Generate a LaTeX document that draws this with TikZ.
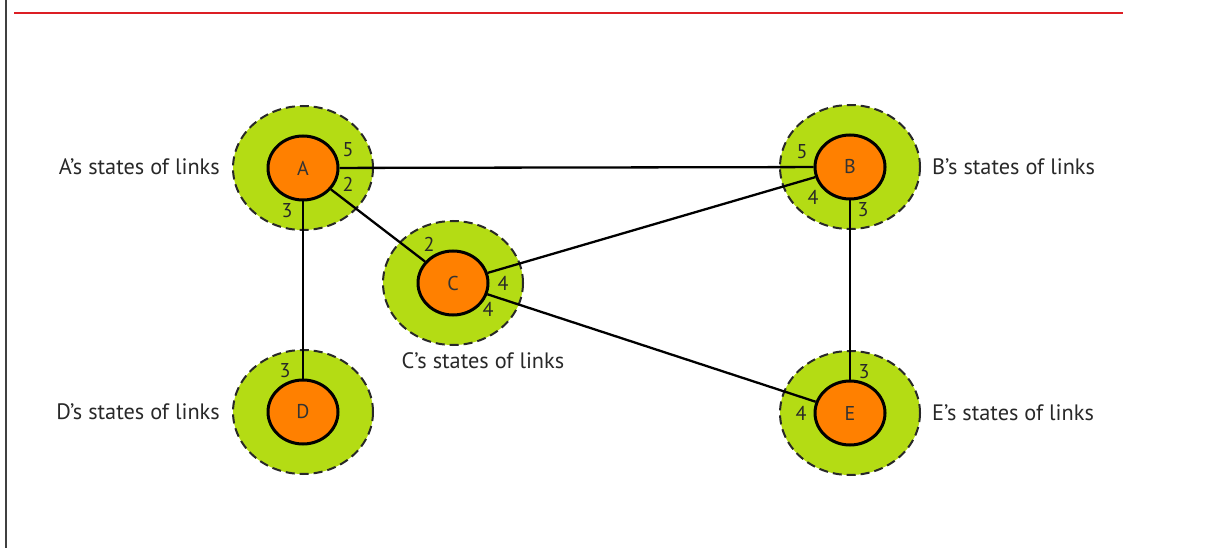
\documentclass[tikz,border=0pt]{standalone}
\usepackage{fontspec}
\setmainfont{PT Sans}
\usetikzlibrary{shapes.geometric}
\definecolor{ringgreen}{RGB}{180,220,20}
\definecolor{routerorange}{RGB}{255,128,0}
\definecolor{rulered}{RGB}{220,30,36}
\definecolor{inkgray}{RGB}{40,40,40}
\begin{document}
\begin{tikzpicture}[x=1pt,y=-1pt,
  ring/.style={ellipse, fill=ringgreen, draw=inkgray, line width=2pt,
    dash pattern=on 9pt off 5pt, minimum width=140pt, minimum height=124pt, inner sep=0pt},
  router/.style={ellipse, fill=routerorange, draw=black, line width=3pt,
    minimum width=70pt, minimum height=64pt, inner sep=0pt,
    font=\fontsize{20}{20}\selectfont, text=black!80},
  link/.style={draw=black, line width=2.3pt},
  port/.style={font=\fontsize{20}{20}\selectfont, text=inkgray, inner sep=0pt},
  caption/.style={font=\fontsize{22.3}{24}\selectfont, text=inkgray, inner sep=0pt}]
\useasboundingbox (0,0) rectangle (1207,548);
% page frame
\draw[line width=1.4pt, black!75] (6,0) -- (6,548);
\draw[line width=2pt, rulered] (14,13) -- (1123,13);

% link-state zones
\node[ring] (rA) at (303,168) {};
\node[ring] (rB) at (850,167) {};
\node[ring] (rC) at (453,283) {};
\node[ring] (rD) at (303,412) {};
\node[ring] (rE) at (850,413) {};

% routers
\node[router] (A) at (303,168) {A};
\node[router] (B) at (850,167) {B};
\node[router] (C) at (453,283) {C};
\node[router] (D) at (303,412) {D};
\node[router] (E) at (850,413) {E};

% links
\draw[link] (A) -- (B);
\draw[link] (A) -- (C);
\draw[link] (A) -- (D);
\draw[link] (C) -- (B);
\draw[link] (C) -- (E);
\draw[link] (B) -- (E);

% link costs
\node[port] (a5) at (348,150) {5};
\node[port] (a2) at (348,184) {2};
\node[port] (a3) at (287,211) {3};
\node[port] (b5) at (802,152) {5};
\node[port] (b4) at (813,197) {4};
\node[port] (b3) at (863,210) {3};
\node[port] (c2) at (429,244) {2};
\node[port] (c4a) at (503,283) {4};
\node[port] (c4b) at (488,309) {4};
\node[port] (d3) at (285,371) {3};
\node[port] (e3) at (864,372) {3};
\node[port] (e4) at (801,413) {4};

% captions
\node[caption, anchor=east] (la) at (220,167) {A’s states of links};
\node[caption, anchor=west] (lb) at (932,167) {B’s states of links};
\node[caption] (lc) at (483,361) {C’s states of links};
\node[caption, anchor=east] (ld) at (220,412) {D’s states of links};
\node[caption, anchor=west] (le) at (932,413) {E’s states of links};
\end{tikzpicture}
\end{document}
